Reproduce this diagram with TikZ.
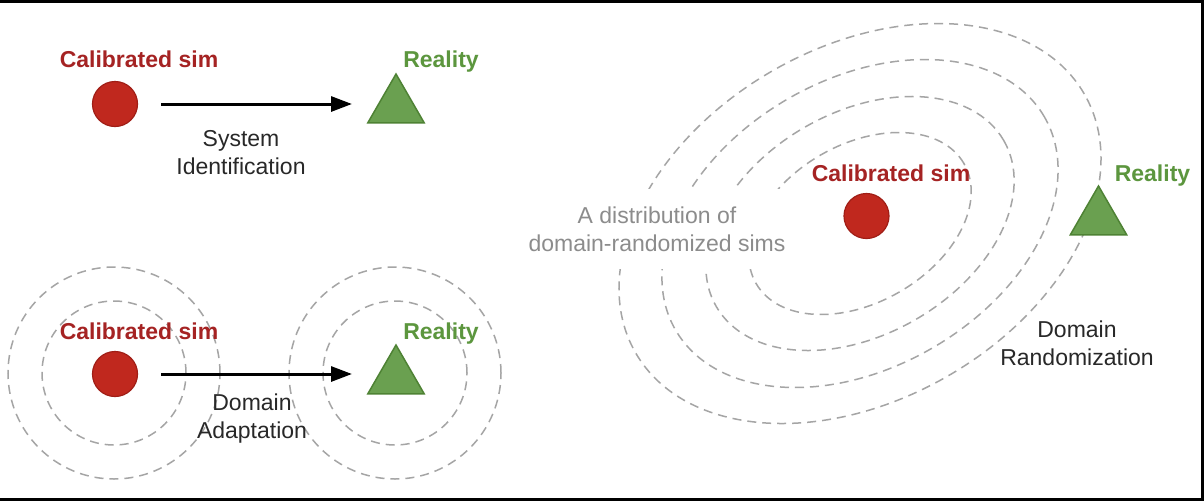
\documentclass[tikz,border=0pt]{standalone}
\usepackage{fontspec}
\setmainfont{Liberation Sans}
\usetikzlibrary{arrows.meta,shapes.geometric}
\definecolor{simred}{RGB}{192,40,30}
\definecolor{simredline}{RGB}{160,30,22}
\definecolor{simlab}{RGB}{165,35,35}
\definecolor{realgreen}{RGB}{106,160,80}
\definecolor{realgreenline}{RGB}{78,130,52}
\definecolor{reallab}{RGB}{92,150,62}
\definecolor{distgray}{RGB}{165,165,165}
\definecolor{txtgray}{RGB}{140,140,140}
\definecolor{txtdark}{RGB}{40,40,40}
\begin{document}
\begin{tikzpicture}[x=1pt,y=-1pt,
  simdot/.style={circle,fill=simred,draw=simredline,line width=1.2pt,minimum size=45pt,inner sep=0pt},
  tri/.style={regular polygon,regular polygon sides=3,fill=realgreen,draw=realgreenline,line width=1.5pt,minimum size=65pt,inner sep=0pt},
  simlabel/.style={font=\fontsize{23}{28}\selectfont\bfseries,text=simlab,anchor=base,inner sep=0pt},
  reallabel/.style={font=\fontsize{23}{28}\selectfont\bfseries,text=reallab,anchor=base,inner sep=0pt},
  desc/.style={font=\fontsize{23}{28}\selectfont,align=center,text=txtdark,inner sep=0pt},
  arr/.style={line width=3pt,-{Triangle[length=21pt,width=15pt]}},
  ring/.style={draw=distgray,line width=1.5pt,dash pattern=on 9pt off 6pt},
]
\useasboundingbox (0,0) rectangle (1204,501);
\fill[black] (0,0) rectangle (1204,501);
\fill[white] (-2,3) rectangle (1201,498);

% ---------- top-left: system identification ----------
\node[simlabel] (simlabA) at (139,67) {Calibrated sim};
\node[simdot] (simA) at (115,104) {};
\node[reallabel] (reallabA) at (441,67) {Reality};
\node[tri] (realA) at (396,106.5) {};
\draw[arr,shorten <=23pt,shorten >=44pt] (simA) -- (simA -| realA);
\node[desc] (sysid) at (241,153) {System\\Identification};

% ---------- bottom-left: domain adaptation ----------
\draw[ring] (114,373) circle[radius=72pt];
\draw[ring] (114,373) circle[radius=106pt];
\draw[ring] (395,373) circle[radius=72pt];
\draw[ring] (395,373) circle[radius=106pt];
\node[simlabel] (simlabB) at (139,339) {Calibrated sim};
\node[simdot] (simB) at (115,374) {};
\node[reallabel] (reallabB) at (441,339) {Reality};
\node[tri] (realB) at (396,377.5) {};
\draw[arr,shorten <=23pt,shorten >=44pt] (simB) -- (simB -| realB);
\node[desc] (domad) at (252,419) {Domain\\Adaptation};

% ---------- right: domain randomization ----------
\foreach \a/\b in {120/79,166/111,213/144,259/176}
  \draw[ring,rotate around={30:(860,223.5)}] (860,223.5) ellipse[x radius=\a pt,y radius=\b pt];
\node[desc,text=txtgray,fill=white,minimum width=262pt,minimum height=80pt] (dist) at (657,229)
  {A distribution of\\domain-randomized sims};
\node[simlabel] (simlabC) at (891,181) {Calibrated sim};
\node[simdot] (simC) at (866.5,216) {};
\node[reallabel] (reallabC) at (1152.5,181) {Reality};
\node[tri] (realC) at (1098.5,218.5) {};
\node[desc] (domrand) at (1077,343) {Domain\\Randomization};
\end{tikzpicture}
\end{document}
